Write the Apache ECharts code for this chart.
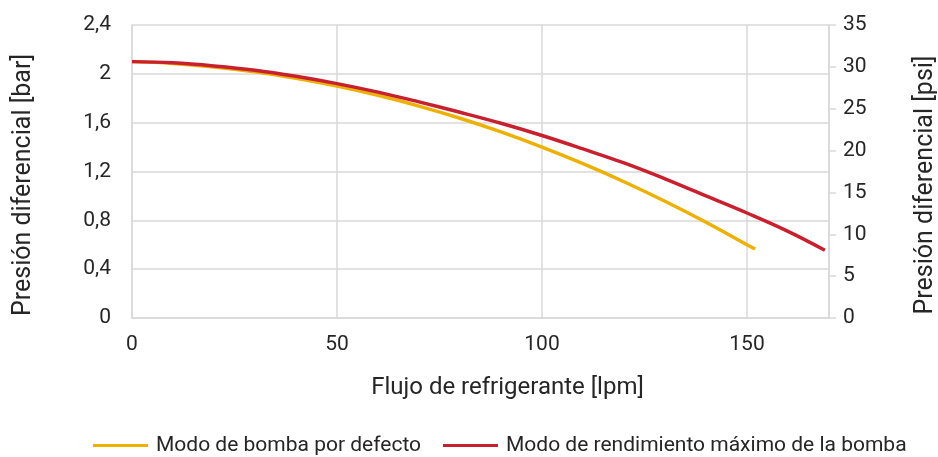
<!DOCTYPE html>
<html>
<head>
<meta charset="utf-8">
<script src="https://cdn.jsdelivr.net/npm/echarts@6/dist/echarts.min.js"></script>
<style>html,body{margin:0;padding:0;background:#fff}#c{width:938px;height:457px}</style>
</head>
<body>
<div id="c"></div>
<script>
var seriesNames = ['Modo de bomba por defecto', 'Modo de rendimiento máximo de la bomba'];
var flowDefault = [0, 10, 20, 30, 40, 50, 60, 70, 80, 90, 100, 110, 120, 130, 140, 150, 152];
var dpDefault = [2.10, 2.085, 2.056, 2.016, 1.964, 1.90, 1.824, 1.736, 1.636, 1.524, 1.40, 1.264, 1.116, 0.956, 0.784, 0.60, 0.565];
var flowMax = [0, 10, 20, 30, 40, 50, 60, 70, 80, 90, 100, 110, 120, 130, 140, 150, 160, 169];
var dpMax = [2.10, 2.09, 2.065, 2.03, 1.98, 1.92, 1.85, 1.77, 1.685, 1.595, 1.495, 1.385, 1.27, 1.14, 1.00, 0.86, 0.71, 0.555];
var xTicks = [0, 50, 100, 150];
var barTicks = ['0', '0,4', '0,8', '1,2', '1,6', '2', '2,4'];
var psiTicks = [0, 5, 10, 15, 20, 25, 30, 35];

function pairs(xs, ys) { return xs.map(function (x, i) { return [x, ys[i]]; }); }

var txt = '#262626';
var font = 'Roboto';
var chart = echarts.init(document.getElementById('c'));
chart.setOption({
  animation: false,
  textStyle: { fontFamily: font },
  grid: { left: 132, right: 109, top: 25, bottom: 139, outerBoundsMode: 'none', containLabel: false },
  legend: {
    top: 430,
    left: 88,
    itemWidth: 55,
    itemHeight: 3,
    itemGap: 22,
    icon: 'rect',
    textStyle: { fontSize: 21, color: txt, fontFamily: font, padding: [0, 0, 0, 3] },
    data: seriesNames
  },
  xAxis: {
    type: 'value', min: 0, max: 170, interval: 50,
    name: 'Flujo de refrigerante [lpm]', nameLocation: 'middle', nameGap: 58,
    nameTextStyle: { fontSize: 24, color: txt, padding: [0, 0, 0, 54] },
    axisLine: { show: true, lineStyle: { color: '#d9d9d9', width: 1.5 } },
    axisTick: { show: false },
    axisLabel: { fontSize: 21, color: txt, margin: 16, showMaxLabel: false,
      formatter: function (v) { return xTicks.indexOf(v) >= 0 ? String(v) : ''; } },
    splitLine: { show: true, lineStyle: { color: '#d9d9d9', width: 1.5 } }
  },
  yAxis: [{
    type: 'value', min: 0, max: 2.4, interval: 0.4, position: 'left',
    name: 'Presión diferencial [bar]', nameLocation: 'middle', nameGap: 96,
    nameTextStyle: { fontSize: 25, color: txt, padding: [0, 27, 0, 0] },
    axisLine: { show: true, lineStyle: { color: '#d9d9d9', width: 1.5 } },
    axisTick: { show: false },
    axisLabel: { fontSize: 21, color: txt, margin: 21,
      formatter: function (v) { return barTicks[Math.round(v / 0.4)]; } },
    splitLine: { show: true, lineStyle: { color: '#d9d9d9', width: 1.5 } }
  }, {
    type: 'value', min: 0, max: 35, interval: 5, position: 'right',
    name: 'Presión diferencial [psi]', nameLocation: 'middle', nameGap: 84, nameRotate: 90,
    nameTextStyle: { fontSize: 25, color: txt, padding: [0, 27, 0, 0] },
    axisLine: { show: true, lineStyle: { color: '#d9d9d9', width: 1.5 } },
    axisTick: { show: true, length: 7, lineStyle: { color: '#d9d9d9', width: 1.5 } },
    axisLabel: { fontSize: 21, color: txt, margin: 14,
      formatter: function (v) { return psiTicks.indexOf(v) >= 0 ? String(v) : ''; } },
    splitLine: { show: false }
  }],
  series: [{
    name: seriesNames[0], type: 'line', yAxisIndex: 0, smooth: 0.4, showSymbol: false, symbol: 'none',
    data: pairs(flowDefault, dpDefault),
    lineStyle: { color: '#EDB004', width: 3.5 }, itemStyle: { color: '#EDB004' }
  }, {
    name: seriesNames[1], type: 'line', yAxisIndex: 0, smooth: 0.4, showSymbol: false, symbol: 'none',
    data: pairs(flowMax, dpMax),
    lineStyle: { color: '#C8202F', width: 3.5 }, itemStyle: { color: '#C8202F' }
  }]
});
</script>
</body>
</html>
